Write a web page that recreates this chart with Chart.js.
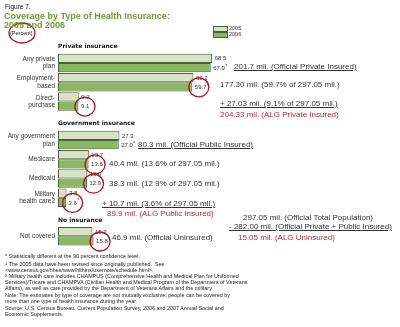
<!DOCTYPE html>
<html><head><meta charset="utf-8">
<script src="https://cdn.jsdelivr.net/npm/chart.js@4.4.1/dist/chart.umd.min.js"></script>
<style>
html,body{margin:0;padding:0;background:#fff;width:400px;height:327px;overflow:hidden;font-family:"Liberation Sans",Arial,sans-serif;}
#wrap{position:relative;width:400px;height:327px;}
#c{position:absolute;left:0;top:0;}
.t{position:absolute;white-space:nowrap;line-height:1;color:#333;}
.a{font-size:8px;}
.u{text-decoration:underline;}
.r{color:#c0282d;}
.f{font-size:5.4px;color:#222;left:5px;}
.s{font-size:4px;position:relative;top:-1.5px;}
</style></head><body>
<div id="wrap">
<canvas id="c" width="400" height="327"></canvas>
<div class="t" style="left:5px;top:4px;font-size:6.5px;color:#111;">Figure 7.</div>
<div class="t" style="left:4px;top:12px;font-size:9px;font-weight:bold;color:#6c9c38;">Coverage by Type of Health Insurance:</div>
<div class="t" style="left:4px;top:21px;font-size:9px;font-weight:bold;color:#6c9c38;">2005 and 2006</div>
<div class="t" style="left:10px;top:31px;font-size:5.5px;color:#111;">(Percent)</div>
<div id="legend"></div>

<div class="t a u" style="left:234px;top:63px;">201.7 mil. (Official Private Insured)</div>
<div class="t a" style="left:220px;top:81px;">177.30 mil. (59.7% of 297.05 mil.)</div>
<div class="t a u" style="left:220px;top:100px;">+ 27.03 mil. (9.1% of 297.05 mil.)</div>
<div class="t a r" style="left:220px;top:111px;">204.33 mil. (ALG Private Insured)</div>
<div class="t a u" style="left:138px;top:141px;">80.3 mil. (Official Public Insured)</div>
<div class="t a" style="left:109px;top:160px;">40.4 mil. (13.6% of 297.05 mil.)</div>
<div class="t a" style="left:109px;top:180px;">38.3 mil. (12.9% of 297.05 mil.)</div>
<div class="t a u" style="left:102px;top:200px;">+ 10.7 mil. (3.6% of 297.05 mil.)</div>
<div class="t a r" style="left:107px;top:210px;">89.9 mil. (ALG Public Insured)</div>
<div class="t a" style="left:243px;top:214px;">297.05 mil. (Official Total Population)</div>
<div class="t a u" style="left:229px;top:223px;">- 282.00 mil. (Official Private + Public Insured)</div>
<div class="t a r" style="left:238px;top:234px;">15.05 mil. (ALG Uninsured)</div>
<div class="t a" style="left:112px;top:234px;">46.9 mil. (Official Uninsured)</div>

<div class="t f" style="top:254px;">* Statistically different at the 90 percent confidence level.</div>
<div class="t f" style="top:262px;"><span class="s">1</span> The 2005 data have been revised since originally published.&nbsp; See</div>
<div class="t f" style="top:268px;">&lt;www.census.gov/hhes/www/hlthins/usernote/schedule.html&gt;.</div>
<div class="t f" style="top:274px;"><span class="s">2</span> Military health care includes CHAMPUS (Comprehensive Health and Medical Plan for Uniformed</div>
<div class="t f" style="top:280px;">Services)/Tricare and CHAMPVA (Civilian Health and Medical Program of the Department of Veterans</div>
<div class="t f" style="top:286px;">Affairs), as well as care provided by the Department of Veterans Affairs and the military.</div>
<div class="t f" style="top:293px;">Note: The estimates by type of coverage are not mutually exclusive; people can be covered by</div>
<div class="t f" style="top:299px;">more than one type of health insurance during the year.</div>
<div class="t f" style="top:306px;">Source: U.S. Census Bureau, Current Population Survey, 2006 and 2007 Annual Social and</div>
<div class="t f" style="top:312px;">Economic Supplements.</div>
</div>
<script>
const categories = ['Private insurance', 'Any private plan', 'Employment-based', 'Direct-purchase',
  'Government insurance', 'Any government plan', 'Medicare', 'Medicaid', 'Military health care2',
  'No insurance', 'Not covered'];
const tickLabels = [[''], ['Any private', 'plan'], ['Employment-', 'based'], ['Direct-', 'purchase'],
  [''], ['Any government', 'plan'], ['Medicare'], ['Medicaid'], ['Military', 'health care2'],
  [''], ['Not covered']];
const sectionHeaders = ['Private insurance', 'Government insurance', 'No insurance'];
const seriesNames = ['2005', '2006'];
const values2005 = [null, 68.5, 60.2, 9.2, null, 27.3, 13.7, 13.0, 3.8, null, 15.3];
const values2006 = [null, 67.9, 59.7, 9.1, null, 27.0, 13.6, 12.9, 3.6, null, 15.8];
const starred2006 = ['Any private plan', 'Employment-based', 'Any government plan', 'Military health care2', 'Not covered'];
const circled2006 = ['Employment-based', 'Direct-purchase', 'Medicare', 'Medicaid', 'Military health care2', 'Not covered'];

const COLORS = ['#d6e4c4', '#8cb761'];
const BORDER = '#4f5e42';
const RED = '#b3141c';

const lg = document.getElementById('legend');
seriesNames.forEach((n, i) => {
  const sw = document.createElement('div');
  sw.style.cssText = `position:absolute;left:213px;top:${26 + i * 6}px;width:13px;height:4px;background:${COLORS[i]};border:1px solid ${BORDER};`;
  lg.appendChild(sw);
  const tx = document.createElement('div');
  tx.className = 't';
  tx.style.cssText = `left:229px;top:${26 + i * 6}px;font-size:5.5px;color:#333;`;
  tx.textContent = n;
  lg.appendChild(tx);
});

const overlay = {
  id: 'overlay',
  afterDatasetsDraw(chart) {
    const ctx = chart.ctx;
    const ys = chart.scales.y;
    ctx.save();
    [values2005, values2006].forEach((vals, d) => {
      const meta = chart.getDatasetMeta(d);
      vals.forEach((v, i) => {
        if (v === null) return;
        const el = meta.data[i];
        const txt = v.toFixed(1);
        ctx.font = '6px "Liberation Sans", Arial, sans-serif';
        ctx.fillStyle = '#333';
        ctx.textAlign = 'left';
        ctx.textBaseline = 'middle';
        const x0 = el.x + 2.5;
        ctx.fillText(txt, x0, el.y + 0.5);
        if (d === 1 && starred2006.includes(categories[i])) {
          const w = ctx.measureText(txt).width;
          ctx.font = '4.5px "Liberation Sans", Arial, sans-serif';
          ctx.fillText('*', x0 + w + 0.3, el.y - 1.2);
        }
      });
    });
    ctx.font = 'bold 6px "DejaVu Sans", sans-serif';
    ctx.fillStyle = '#111';
    ctx.textAlign = 'left';
    ctx.textBaseline = 'middle';
    sectionHeaders.forEach(h => {
      const i = categories.indexOf(h);
      ctx.fillText(h, chart.chartArea.left, ys.getPixelForValue(i) + 3);
    });
    ctx.strokeStyle = RED;
    ctx.lineWidth = 1.3;
    const meta2 = chart.getDatasetMeta(1);
    circled2006.forEach(c => {
      const el = meta2.data[categories.indexOf(c)];
      ctx.beginPath();
      ctx.ellipse(el.x + 6.5, el.y + 0.5, 10, 9.5, 0, 0, Math.PI * 2);
      ctx.stroke();
    });
    ctx.beginPath();
    ctx.ellipse(22, 33, 13, 10, 0, 0, Math.PI * 2);
    ctx.stroke();
    ctx.restore();
  }
};

new Chart(document.getElementById('c'), {
  type: 'bar',
  data: {
    labels: categories,
    datasets: [values2005, values2006].map((vals, d) => ({
      label: seriesNames[d],
      data: vals,
      backgroundColor: COLORS[d],
      borderColor: BORDER,
      borderWidth: 1,
      borderSkipped: false,
      categoryPercentage: 0.96,
      barPercentage: 1.0
    }))
  },
  options: {
    responsive: false,
    animation: false,
    indexAxis: 'y',
    layout: { padding: { left: 0, right: 117, top: 34, bottom: 81 } },
    plugins: { legend: { display: false }, tooltip: { enabled: false } },
    scales: {
      x: { type: 'linear', min: 0, max: 100, display: false },
      y: {
        type: 'category',
        grid: { display: false, drawTicks: false },
        border: { display: false },
        afterFit(scale) { scale.width = 58; },
        ticks: {
          autoSkip: false,
          padding: 3,
          color: '#333',
          font: { size: 6.5, family: '"Liberation Sans", Arial, sans-serif', lineHeight: 1.15 },
          callback: (v, i) => tickLabels[i]
        }
      }
    }
  },
  plugins: [overlay]
});
</script>
</body></html>
